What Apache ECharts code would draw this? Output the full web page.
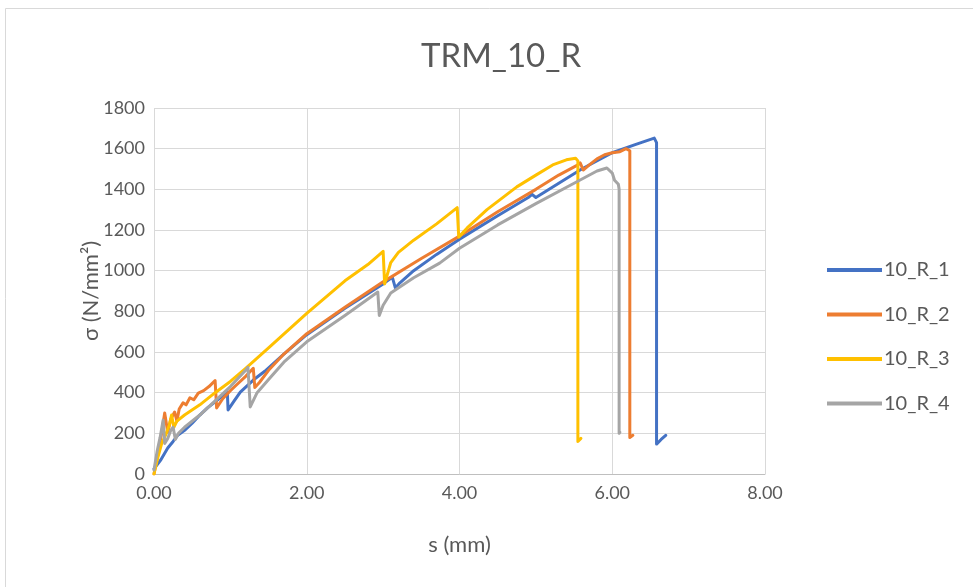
<!DOCTYPE html>
<html><head><meta charset="utf-8">
<script src="https://cdn.jsdelivr.net/npm/echarts@6/dist/echarts.min.js"></script>
<style>html,body{margin:0;padding:0;background:#fff}#c{width:973px;height:587px}</style>
</head><body><div id="c"></div>
<script>
const titleText = 'TRM_10_R';
const xAxisName = 's (mm)';
const yAxisName = 'σ (N/mm²)';
const seriesNames = ['10_R_1', '10_R_2', '10_R_3', '10_R_4'];

const r1X = [0, 0.05, 0.09, 0.18, 0.25, 0.31, 0.4, 0.5, 0.6, 0.7, 0.8, 0.9, 0.96, 0.97, 1.05, 1.13, 1.3, 1.45, 1.7, 2.0, 2.5, 3.0, 3.12, 3.16, 3.22, 3.4, 3.7, 4.0, 4.5, 4.9, 4.95, 5.0, 5.3, 5.6, 6.0, 6.3, 6.55, 6.58, 6.58, 6.64, 6.70];
const r1Y = [25, 50, 70, 128, 160, 190, 215, 250, 290, 325, 355, 385, 403, 315, 360, 403, 462, 505, 590, 685, 815, 935, 968, 915, 940, 1000, 1080, 1155, 1270, 1360, 1375, 1360, 1430, 1500, 1580, 1620, 1652, 1630, 147, 170, 190];

const r2X = [0, 0.05, 0.1, 0.14, 0.18, 0.22, 0.27, 0.3, 0.33, 0.38, 0.42, 0.47, 0.52, 0.58, 0.65, 0.72, 0.8, 0.82, 0.9, 1.0, 1.1, 1.2, 1.3, 1.32, 1.38, 1.5, 1.7, 2.0, 2.5, 3.0, 3.5, 4.0, 4.5, 5.0, 5.3, 5.55, 5.58, 5.62, 5.7, 5.8, 5.9, 6.0, 6.1, 6.18, 6.23, 6.23, 6.27];
const r2Y = [0, 100, 200, 300, 205, 270, 305, 260, 320, 350, 340, 375, 365, 398, 410, 430, 460, 325, 370, 410, 445, 480, 520, 425, 450, 510, 590, 690, 820, 945, 1060, 1170, 1290, 1400, 1470, 1520, 1530, 1495, 1520, 1550, 1570, 1580, 1585, 1600, 1590, 180, 190];

const r3X = [0, 0.05, 0.1, 0.15, 0.2, 0.23, 0.26, 0.3, 0.4, 0.6, 0.8, 1.0, 1.2, 1.5, 2.0, 2.5, 2.8, 3.0, 3.02, 3.1, 3.2, 3.4, 3.7, 3.97, 3.99, 4.1, 4.36, 4.75, 5.0, 5.22, 5.4, 5.52, 5.55, 5.55, 5.59];
const r3Y = [0, 80, 150, 190, 240, 290, 230, 260, 290, 340, 400, 455, 520, 620, 790, 950, 1030, 1095, 935, 1040, 1090, 1150, 1230, 1310, 1165, 1210, 1300, 1412, 1470, 1520, 1545, 1553, 1540, 160, 175];

const r4X = [0, 0.04, 0.08, 0.12, 0.14, 0.18, 0.22, 0.25, 0.28, 0.32, 0.4, 0.6, 0.8, 1.0, 1.2, 1.23, 1.26, 1.35, 1.5, 1.7, 2.0, 2.5, 2.93, 2.95, 3.0, 3.1, 3.4, 3.74, 4.0, 4.5, 5.0, 5.5, 5.8, 5.93, 6.0, 6.03, 6.08, 6.09, 6.09, 6.1];
const r4Y = [20, 110, 180, 265, 150, 175, 215, 230, 170, 200, 230, 290, 360, 430, 510, 525, 330, 400, 465, 550, 650, 780, 895, 780, 830, 890, 965, 1037, 1110, 1225, 1330, 1430, 1490, 1505, 1480, 1445, 1425, 1400, 200, 205];

const xTicks = [0, 2, 4, 6, 8];
const yTicks = [0, 200, 400, 600, 800, 1000, 1200, 1400, 1600, 1800];

const colors = ['#4472C4', '#ED7D31', '#FFC000', '#A5A5A5'];
const xs = [r1X, r2X, r3X, r4X];
const ys = [r1Y, r2Y, r3Y, r4Y];

const font = 'Lato, "Open Sans", sans-serif';
const txt = '#595959';

const chart = echarts.init(document.getElementById('c'));
chart.setOption({
  animation: false,
  color: colors,
  graphic: [{type: 'rect', shape: {x: 5.5, y: 8.5, width: 980, height: 600}, style: {fill: 'none', stroke: '#d9d9d9', lineWidth: 1}, silent: true}],
  title: {text: titleText, left: 416, top: 35, textStyle: {fontFamily: font, fontSize: 33, fontWeight: 'normal', color: txt}},
  legend: {
    orient: 'vertical', left: 822, top: 255, itemWidth: 55, itemHeight: 4, itemGap: 24.5, icon: 'rect',
    textStyle: {fontFamily: font, fontSize: 20, color: txt, padding: [0, 0, 0, -3]},
    data: seriesNames
  },
  grid: {left: 154, right: 208, top: 108, bottom: 113},
  xAxis: {
    type: 'value', min: xTicks[0], max: xTicks[xTicks.length - 1], interval: 2,
    name: xAxisName, nameLocation: 'middle', nameGap: 60, nameMoveOverlap: false,
    nameTextStyle: {fontFamily: font, fontSize: 22, color: txt},
    axisLine: {show: true, lineStyle: {color: '#bfbfbf', width: 1}},
    axisTick: {show: false},
    axisLabel: {fontFamily: font, fontSize: 18, color: txt, margin: 10, formatter: v => v.toFixed(2)},
    splitLine: {show: true, lineStyle: {color: '#d9d9d9', width: 1}}
  },
  yAxis: {
    type: 'value', min: yTicks[0], max: yTicks[yTicks.length - 1], interval: 200,
    name: yAxisName, nameLocation: 'middle', nameGap: 52, nameMoveOverlap: false,
    nameTextStyle: {fontFamily: font, fontSize: 22, color: txt},
    axisLine: {show: false}, axisTick: {show: false},
    axisLabel: {fontFamily: font, fontSize: 18, color: txt, margin: 9, formatter: v => String(v)},
    splitLine: {show: true, lineStyle: {color: '#d9d9d9', width: 1}}
  },
  series: seriesNames.map((n, i) => ({
    name: n, type: 'line', showSymbol: false, smooth: false,
    lineStyle: {width: 3, color: colors[i], join: 'round', cap: 'round'},
    data: xs[i].map((x, k) => [x, ys[i][k]])
  }))
});
</script></body></html>
